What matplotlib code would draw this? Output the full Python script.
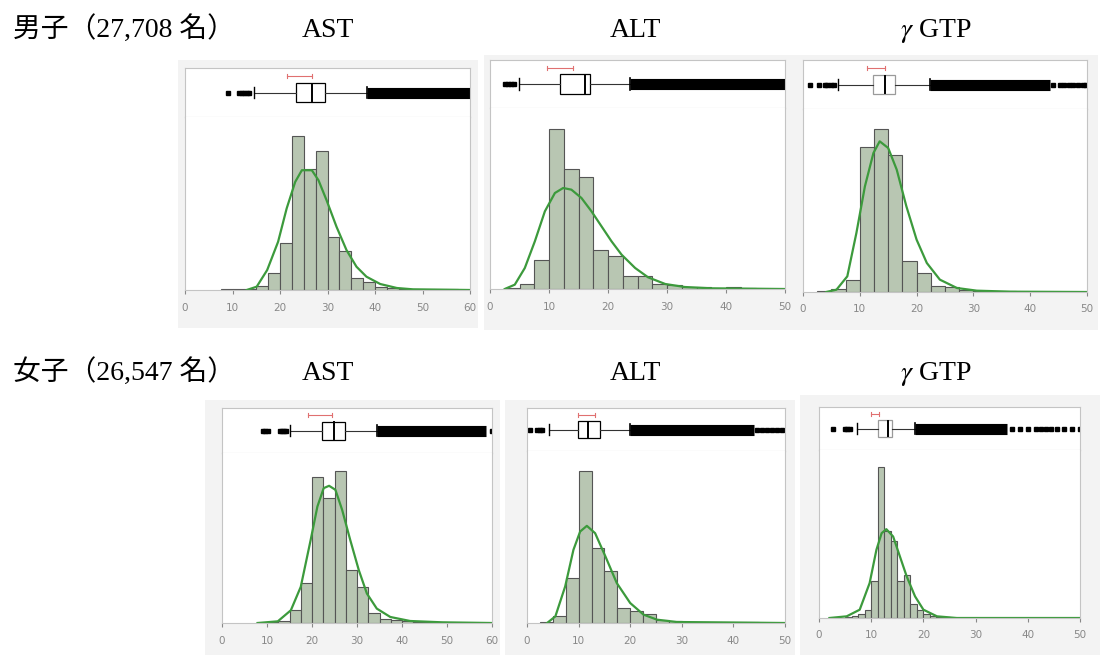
import numpy as np
import matplotlib
matplotlib.use('Agg')
import matplotlib.pyplot as plt
from matplotlib.patches import Rectangle

plt.rcParams['mathtext.fontset'] = 'stix'

# 行ラベル・項目名
row_labels = ['男子（27,708 名）', '女子（26,547 名）']
item_labels = ['AST', 'ALT', r'$\gamma$ GTP']

# ヒストグラム（度数は相対値）
m_ast_start, m_ast_w = 7.5, 2.5
m_ast_counts = [2, 2, 3, 12, 50, 142, 462, 365, 418, 160, 118, 35, 25, 10, 5, 3, 3, 2, 2, 2, 1]
m_alt_start, m_alt_w = 2.5, 2.5
m_alt_counts = [3, 15, 86, 481, 361, 335, 116, 98, 38, 38, 15, 11, 7, 5, 3, 6, 2, 1, 1]
m_gtp_start, m_gtp_w = 2.5, 2.5
m_gtp_counts = [2, 9, 35, 435, 490, 412, 94, 57, 17, 14, 5, 4, 4, 4, 1, 1, 1, 1, 1]
f_ast_start, f_ast_w = 7.5, 2.5
f_ast_counts = [1, 2, 5, 38, 120, 436, 373, 455, 158, 108, 30, 13, 8, 6, 3, 2, 2, 1, 1, 1, 1]
f_alt_start, f_alt_w = 2.5, 2.5
f_alt_counts = [3, 20, 135, 458, 225, 155, 45, 35, 28, 10, 5, 3, 2, 2, 2, 3, 3, 1, 1]
f_gtp_start, f_gtp_w = 5.0, 1.25
f_gtp_counts = [3, 5, 12, 25, 110, 455, 262, 232, 110, 130, 42, 25, 12, 6, 3, 2, 1]

# 近似曲線
m_ast_cx = [13, 15.1, 17.3, 19.6, 21.4, 23.2, 24.6, 26.7, 28.1, 29.8, 31.9, 34.0, 36.1, 38.2, 41.1, 44.6, 48, 60]
m_ast_cy = [0, 10, 60, 145, 245, 325, 360, 360, 330, 270, 190, 120, 70, 40, 18, 6, 2, 0]
m_alt_cx = [2.5, 4.2, 5.9, 7.6, 9.3, 11.0, 12.4, 13.8, 15.5, 17.2, 18.9, 20.6, 22.3, 24.6, 26.8, 29.7, 33, 37.6, 50]
m_alt_cy = [0, 13, 63, 143, 233, 288, 303, 298, 273, 233, 188, 143, 103, 63, 35, 15, 6, 2, 0]
m_gtp_cx = [4.1, 5.9, 7.8, 9.4, 10.9, 12.4, 13.5, 15.0, 16.5, 18.2, 20, 21.8, 24.1, 27.1, 30.6, 36.5, 50]
m_gtp_cy = [0, 7, 47, 177, 317, 417, 452, 432, 367, 257, 157, 87, 37, 12, 4, 1, 0]
f_ast_cx = [7.9, 12.4, 15.3, 17.5, 19.7, 21.2, 22.6, 23.8, 25.2, 26.7, 28.5, 30.4, 32.2, 34.4, 37.4, 41.8, 49, 60]
f_ast_cy = [0, 5, 38, 108, 248, 348, 403, 410, 398, 338, 248, 158, 88, 43, 18, 6, 2, 0]
f_alt_cx = [3.9, 5.5, 7.4, 9.0, 10.3, 11.6, 13.2, 15.2, 17.4, 20, 22.6, 25.2, 29, 50]
f_alt_cy = [0, 20, 110, 220, 275, 292, 270, 200, 120, 60, 25, 10, 3, 0]
f_gtp_cx = [2, 5.3, 7.8, 9.7, 11, 12, 12.9, 14.2, 15.5, 16.8, 18.4, 20, 22.6, 26.4, 50]
f_gtp_cy = [0, 5, 25, 105, 205, 255, 267, 245, 185, 125, 65, 25, 5, 0, 0]

# 箱ひげ図 (下ひげ, Q1, 中央値, Q3, 上ひげ)
m_ast_box = [14.5, 23.4, 26.7, 29.5, 38.4]
m_alt_box = [4.9, 11.8, 16.1, 16.9, 23.7]
m_gtp_box = [6.2, 12.4, 14.4, 16.2, 22.4]
f_ast_box = [15.1, 22.3, 24.9, 27.3, 34.4]
f_alt_box = [4.2, 9.8, 11.9, 14.2, 20.0]
f_gtp_box = [7.2, 11.3, 13.3, 13.9, 18.4]

# 外れ値（密集部分は範囲、まばらな点は個別）
m_ast_out_lo = [9.1, 11.4, 11.9, 12.4, 13.0, 13.5]
m_ast_out_band = [38.4, 60]
m_ast_out_hi = []
m_alt_out_lo = [2.5, 3.0, 3.5, 4.0]
m_alt_out_band = [23.7, 50]
m_alt_out_hi = []
m_gtp_out_lo = [1.2, 2.9, 3.8, 4.3, 4.9, 5.5]
m_gtp_out_band = [22.4, 43.5]
m_gtp_out_hi = [44.0, 45.2, 46.0, 46.8, 47.5, 48.5, 49.3, 49.8]
f_ast_out_lo = [9.0, 9.6, 10.2, 12.8, 13.3, 13.8, 14.3]
f_ast_out_band = [34.4, 58.7]
f_ast_out_hi = [60]
f_alt_out_lo = [0.6, 2.0, 2.5, 3.0]
f_alt_out_band = [20.0, 43.9]
f_alt_out_hi = [44.5, 45.5, 46.5, 47.5, 48.5, 49.5]
f_gtp_out_lo = [2.7, 4.9, 5.4, 5.9]
f_gtp_out_band = [18.4, 36]
f_gtp_out_hi = [37, 38.5, 40, 41.5, 42.5, 43.5, 44.5, 45.5, 47, 48.5, 50]

# 最短半区間（赤）
m_ast_half = [21.4, 26.7]
m_alt_half = [9.6, 14.1]
m_gtp_half = [11.3, 14.4]
f_ast_half = [19.0, 24.5]
f_alt_half = [9.8, 13.2]
f_gtp_half = [10.0, 11.5]

W, H = 1100, 655
fig = plt.figure(figsize=(W / 100, H / 100), dpi=100)
fig.patch.set_facecolor('white')

def fbox(x0, y0, x1, y1):
    return [x0 / W, 1 - y1 / H, (x1 - x0) / W, (y1 - y0) / H]

# 各パネルの背景（灰色）
for (x0, y0, x1, y1) in [(178, 60, 478, 328), (484, 55, 790, 330), (790, 55, 1098, 330),
                         (205, 400, 500, 655), (505, 400, 795, 655), (800, 395, 1100, 655)]:
    fig.patches.append(Rectangle((x0 / W, 1 - y1 / H), (x1 - x0) / W, (y1 - y0) / H,
                                 transform=fig.transFigure, facecolor='#f3f3f3',
                                 edgecolor='none', zorder=-5))

frame_c = '#c4c4c4'


def draw_panel(px, xmax, start, width, counts, ylim, cx, cy, box, out_lo, band, out_hi,
               half, faint=False):
    x0, x1, yt, ys, yb = px
    # 箱ひげ図
    axb = fig.add_axes(fbox(x0, yt, x1, ys))
    axb.set_xlim(0, xmax)
    axb.set_ylim(0, 1)
    axb.set_xticks([])
    axb.set_yticks([])
    for s in axb.spines.values():
        s.set_color(frame_c)
    lo, q1, med, q3, hi = box
    bc = '#9a9a9a' if faint else 'black'
    axb.plot([lo, q1], [0.5, 0.5], color='#333333', lw=0.8)
    axb.plot([q3, hi], [0.5, 0.5], color='#333333', lw=0.8)
    axb.plot([lo, lo], [0.38, 0.62], color='black', lw=1.0)
    axb.plot([hi, hi], [0.38, 0.62], color='black', lw=1.2)
    axb.add_patch(Rectangle((q1, 0.3), q3 - q1, 0.4, facecolor='white', edgecolor=bc, lw=0.9))
    axb.plot([med, med], [0.32, 0.68], color='black', lw=1.4)
    axb.plot(half, [0.84, 0.84], color='#e07070', lw=0.8)
    axb.plot([half[0], half[0]], [0.8, 0.88], color='#e07070', lw=0.8)
    axb.plot([half[1], half[1]], [0.8, 0.88], color='#e07070', lw=0.8)
    axb.hlines(0.5, band[0], band[1], color='black', lw=8)
    axb.plot(out_lo, [0.5] * len(out_lo), 's', color='black', ms=3.5)
    if out_hi:
        axb.plot(out_hi, [0.5] * len(out_hi), 's', color='black', ms=3.5)

    # ヒストグラム
    axh = fig.add_axes(fbox(x0, ys, x1, yb))
    edges = start + width * np.arange(len(counts))
    axh.bar(edges, counts, width=width, align='edge', color='#b8c6b2',
            edgecolor='#555555', linewidth=0.8)
    axh.plot(cx, cy, color='#3c9a3c', lw=1.6)
    axh.set_xlim(0, xmax)
    axh.set_ylim(0, ylim)
    axh.set_yticks([])
    axh.set_xticks(np.arange(0, xmax + 1, 10))
    axh.tick_params(axis='x', colors='#888888', labelsize=7.5, length=3, pad=6)
    for s in axh.spines.values():
        s.set_color(frame_c)
    axh.spines['top'].set_visible(False)


draw_panel((185, 470, 68, 117, 290), 60, m_ast_start, m_ast_w, m_ast_counts, 520,
           m_ast_cx, m_ast_cy, m_ast_box, m_ast_out_lo, m_ast_out_band, m_ast_out_hi, m_ast_half)
draw_panel((490, 785, 60, 108, 289), 50, m_alt_start, m_alt_w, m_alt_counts, 543,
           m_alt_cx, m_alt_cy, m_alt_box, m_alt_out_lo, m_alt_out_band, m_alt_out_hi, m_alt_half)
draw_panel((803, 1087, 60, 109, 292), 50, m_gtp_start, m_gtp_w, m_gtp_counts, 549,
           m_gtp_cx, m_gtp_cy, m_gtp_box, m_gtp_out_lo, m_gtp_out_band, m_gtp_out_hi, m_gtp_half,
           faint=True)
draw_panel((222, 492, 408, 453, 623), 60, f_ast_start, f_ast_w, f_ast_counts, 508,
           f_ast_cx, f_ast_cy, f_ast_box, f_ast_out_lo, f_ast_out_band, f_ast_out_hi, f_ast_half)
draw_panel((527, 785, 408, 451, 623), 50, f_alt_start, f_alt_w, f_alt_counts, 517,
           f_alt_cx, f_alt_cy, f_alt_box, f_alt_out_lo, f_alt_out_band, f_alt_out_hi, f_alt_half)
draw_panel((819, 1080, 407, 450, 618), 50, f_gtp_start, f_gtp_w, f_gtp_counts, 505,
           f_gtp_cx, f_gtp_cy, f_gtp_box, f_gtp_out_lo, f_gtp_out_band, f_gtp_out_hi, f_gtp_half,
           faint=True)

# 見出し
fam = ['Liberation Serif', 'Noto Sans CJK JP']
for row, yb in zip(row_labels, [37, 380]):
    fig.text(13 / W, 1 - yb / H, row, family=fam, fontsize=20, va='baseline')
    for lab, xp in zip(item_labels, [302, 610, 900]):
        fig.text(xp / W, 1 - yb / H, lab, family=fam, fontsize=20, va='baseline')

fig.savefig('out.png', dpi=100)
